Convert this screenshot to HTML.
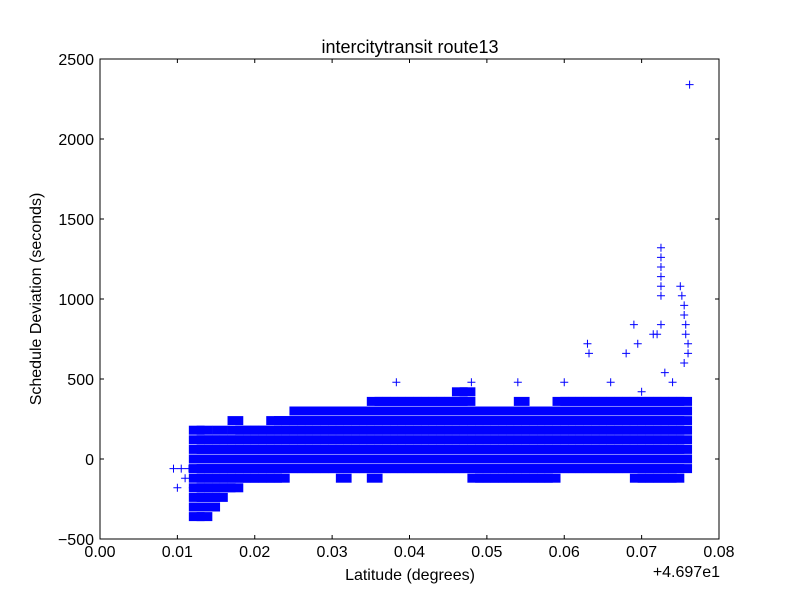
<!DOCTYPE html>
<html><head><meta charset="utf-8"><style>
body{margin:0;background:#fff;}
svg text{font-family:"Liberation Sans","DejaVu Sans",sans-serif;fill:#000;}
</style></head><body>
<svg id="chart" width="800" height="600" xmlns="http://www.w3.org/2000/svg">
<rect width="800" height="600" fill="#fff"/>
<text x="410" y="53" font-size="18" text-anchor="middle">intercitytransit route13</text>
<text x="410" y="580" font-size="16" text-anchor="middle">Latitude (degrees)</text>
<text x="41" y="299" font-size="16" text-anchor="middle" transform="rotate(-90 41 299)">Schedule Deviation (seconds)</text>
<text x="720" y="577" font-size="16" text-anchor="end">+4.697e1</text>
<g id="marks"></g>
<g id="axes"></g>
<rect x="100" y="59" width="619" height="480" fill="none" stroke="#000" stroke-width="1"/>
</svg>
<script>
const binX=[0.012,0.013,0.014,0.015,0.016,0.017,0.018,0.019,0.020,0.021,0.022,0.023,0.024,0.025,0.026,0.027,0.028,0.029,0.030,0.031,0.032,0.033,0.034,0.035,0.036,0.037,0.038,0.039,0.040,0.041,0.042,0.043,0.044,0.045,0.046,0.047,0.048,0.049,0.050,0.051,0.052,0.053,0.054,0.055,0.056,0.057,0.058,0.059,0.060,0.061,0.062,0.063,0.064,0.065,0.066,0.067,0.068,0.069,0.070,0.071,0.072,0.073,0.074,0.075];
const binLow=[-360,-360,-300,-240,-180,-180,-120,-120,-120,-120,-120,-120,-60,-60,-60,-60,-60,-60,-60,-120,-60,-60,-60,-120,-60,-60,-60,-60,-60,-60,-60,-60,-60,-60,-60,-60,-120,-120,-120,-120,-120,-120,-120,-120,-120,-120,-120,-60,-60,-60,-60,-60,-60,-60,-60,-60,-60,-120,-120,-120,-120,-120,-120,-60];
const binHigh=[180,180,120,180,120,240,180,180,180,180,240,240,240,300,300,300,300,300,300,300,300,300,300,360,360,360,360,360,360,360,360,360,360,360,420,420,300,300,300,300,300,300,360,300,300,300,300,360,360,360,360,360,360,360,360,360,360,360,360,360,360,360,360,360];
const outX=[0.0095,0.0100,0.0105,0.0110,0.0115,0.0120,0.0383,0.0480,0.0540,0.0600,0.0630,0.0632,0.0660,0.0690,0.0695,0.0680,0.0720,0.0715,0.0725,0.0725,0.0725,0.0725,0.0725,0.0725,0.0725,0.0750,0.0752,0.0755,0.0755,0.0757,0.0757,0.0760,0.0760,0.0762,0.0740,0.0730,0.0700,0.0755];
const outY=[-60,-180,-60,-120,-60,-180,480,480,480,480,720,660,480,840,720,660,780,780,1320,1260,1200,1140,1080,1020,840,1080,1020,960,900,840,780,720,660,2340,480,540,420,600];
const xTicks=[0,0.01,0.02,0.03,0.04,0.05,0.06,0.07,0.08];
const xTickLabels=["0.00","0.01","0.02","0.03","0.04","0.05","0.06","0.07","0.08"];
const yTicks=[-500,0,500,1000,1500,2000,2500];
const yTickLabels=["−500","0","500","1000","1500","2000","2500"];
const NS="http://www.w3.org/2000/svg";
const px=x=>100+x/0.08*619;
const py=y=>459-y*0.16;
const marks=document.getElementById('marks'),axes=document.getElementById('axes');
function mk(t,a,p){const e=document.createElementNS(NS,t);for(const k in a)e.setAttribute(k,a[k]);p.appendChild(e);return e;}
binX.forEach((x,i)=>{
  const x0=px(x)-4,x1=px(x+0.001)+4;
  for(let v=binLow[i];v<=binHigh[i];v+=60){
    const r=mk('rect',{x:x0,y:py(v)-4.5,width:x1-x0,height:9,fill:'#0000ff'},marks);
    
    
  }
});
outX.forEach((x,i)=>{
  const cx=px(x),cy=py(outY[i]);
  const p=mk('path',{d:`M${cx-4},${cy}H${cx+4}M${cx},${cy-4}V${cy+4}`,stroke:'#0000ff','stroke-width':1,fill:'none'},marks);
  
  
});
xTicks.forEach((v,i)=>{
  const x=px(v);
  mk('path',{d:`M${x},539v-4M${x},59v4`,stroke:'#000'},axes);
  const t=mk('text',{x:x,y:557,'font-size':16,'text-anchor':'middle'},axes);
  t.textContent=xTickLabels[i];
  
  
});
yTicks.forEach((v,i)=>{
  const y=py(v);
  mk('path',{d:`M100,${y}h4M719,${y}h-4`,stroke:'#000'},axes);
  const t=mk('text',{x:94,y:y+6,'font-size':16,'text-anchor':'end'},axes);
  t.textContent=yTickLabels[i];
  
  
});
</script>
</body></html>
